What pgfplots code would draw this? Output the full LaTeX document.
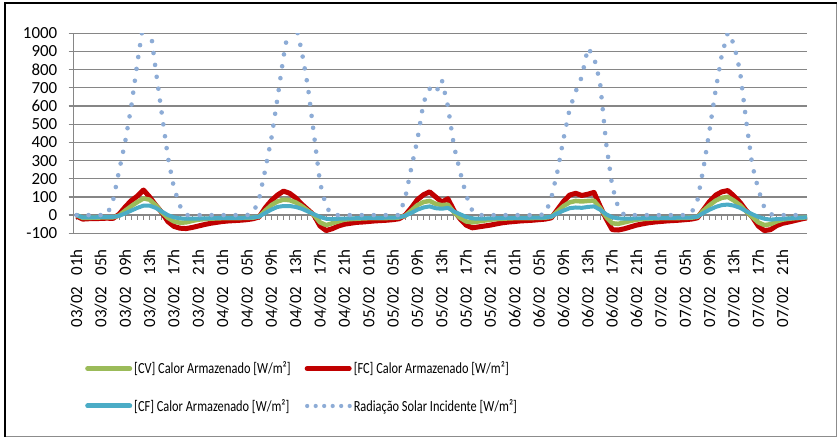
\documentclass[border=0pt]{standalone}
\usepackage{fontspec}
\setmainfont{Carlito}
\usepackage{graphicx}
\usepackage{pgfplots}
\pgfplotsset{compat=1.18}
\usepackage{pgfplotstable}
\definecolor{cvgreen}{RGB}{155,187,89}
\definecolor{fcred}{RGB}{192,0,0}
\definecolor{cfteal}{RGB}{75,172,198}
\definecolor{radblue}{RGB}{141,172,214}
\definecolor{gridgray}{RGB}{134,134,134}
\newcommand{\lab}[2]{#1\hspace{11bp}#2}
\newcommand{\leg}[1]{\scalebox{0.8}[1]{#1}}

\pgfplotstableread{
i fc cv cf rad
0 -5 0 0 0
1 -22 -15 -12 0
2 -20 -15 -12 0
3 -20 -14 -12 0
4 -18 -13 -11 0
5 -17 -13 -11 0
6 -18 -12 -10 80
7 5 -2 -4 245
8 45 25 10 405
9 80 50 25 600
10 105 72 40 840
11 138 92 52 1060
12 100 85 52 1060
13 55 55 40 800
14 15 15 20 560
15 -35 -15 0 320
16 -62 -35 -12 150
17 -72 -42 -18 50
18 -74 -40 -20 0
19 -68 -32 -20 0
20 -60 -25 -19 0
21 -52 -22 -18 0
22 -45 -20 -17 0
23 -40 -18 -16 0
24 -35 -17 -15 0
25 -32 -17 -15 0
26 -30 -16 -15 0
27 -28 -16 -15 0
28 -25 -15 -14 0
29 -20 -14 -13 10
30 -10 -8 -8 90
31 40 25 12 250
32 80 55 30 420
33 110 75 45 640
34 132 85 50 870
35 120 82 50 1060
36 95 70 45 1050
37 60 50 35 900
38 30 25 20 707
39 0 0 5 444
40 -60 -40 -10 178
41 -85 -55 -20 47
42 -75 -45 -22 0
43 -60 -35 -20 0
44 -50 -25 -19 0
45 -45 -22 -18 0
46 -40 -20 -17 0
47 -38 -18 -16 0
48 -35 -17 -15 0
49 -32 -17 -15 0
50 -30 -16 -15 0
51 -28 -16 -14 0
52 -25 -15 -14 0
53 -20 -13 -12 0
54 0 -3 -3 95
55 40 25 12 260
56 85 55 30 415
57 112 72 42 620
58 128 78 48 695
59 100 62 38 670
60 72 55 35 745
61 90 58 40 600
62 25 15 20 380
63 -20 -15 5 240
64 -55 -35 -10 110
65 -70 -40 -18 25
66 -65 -35 -20 0
67 -60 -30 -19 0
68 -55 -25 -18 0
69 -48 -22 -17 0
70 -42 -20 -16 0
71 -38 -18 -15 0
72 -35 -17 -15 0
73 -32 -17 -15 0
74 -30 -16 -15 0
75 -28 -16 -14 0
76 -25 -15 -14 0
77 -22 -14 -13 5
78 -15 -10 -8 95
79 30 20 10 240
80 75 50 25 420
81 110 70 38 583
82 120 78 42 680
83 108 75 40 760
84 115 78 45 920
85 125 80 48 870
86 50 40 30 730
87 -20 -10 5 395
88 -80 -45 -12 160
89 -82 -48 -18 40
90 -75 -40 -20 0
91 -65 -32 -19 0
92 -55 -25 -18 0
93 -48 -22 -17 0
94 -42 -20 -16 0
95 -38 -18 -15 0
96 -35 -17 -15 0
97 -32 -17 -15 0
98 -30 -16 -15 0
99 -28 -16 -14 0
100 -25 -15 -14 0
101 -22 -14 -13 10
102 -15 -10 -8 82
103 30 25 12 260
104 75 55 30 470
105 110 80 45 690
106 128 95 55 880
107 135 100 58 1005
108 105 80 52 940
109 70 55 40 790
110 25 20 22 520
111 -10 -10 5 275
112 -60 -40 -10 142
113 -85 -55 -20 40
114 -80 -50 -25 5
115 -58 -35 -22 0
116 -45 -25 -20 0
117 -38 -20 -18 0
118 -30 -17 -16 0
119 -22 -15 -14 0
120 -15 -12 -12 0
}\data

\begin{document}
\begin{tikzpicture}[x=1bp,y=1bp]
\useasboundingbox (0,0) rectangle (839,439);
\fill[white] (0,0) rectangle (839,439);
\draw[line width=1bp, black!45] (5,2) -- (836.5,2) -- (836.5,436);
\draw[line width=2.5bp, black] (5,2) -- (5,436) -- (836.5,436);
\begin{axis}[
  at={(73.5bp,205.7bp)}, anchor=south west,
  scale only axis, width=733.5bp, height=200bp,
  xmin=-0.5, xmax=120, ymin=-100, ymax=1000,
  axis x line*=bottom, axis y line*=left,
  x axis line style={draw=none},
  y axis line style={gridgray, line width=1.3bp},
  ytick={-100,0,100,200,300,400,500,600,700,800,900,1000},
  yticklabels={-100,0,100,200,300,400,500,600,700,800,900,1000},
  ymajorgrids, major grid style={gridgray, line width=1.3bp},
  ytick style={gridgray, line width=1.3bp},
  tick align=outside, major tick length=5bp,
  xtick style={draw=none},
  xtick={0,4,...,116},
  xticklabels={\lab{03/02}{01h},\lab{03/02}{05h},\lab{03/02}{09h},\lab{03/02}{13h},\lab{03/02}{17h},\lab{03/02}{21h},
    \lab{04/02}{01h},\lab{04/02}{05h},\lab{04/02}{09h},\lab{04/02}{13h},\lab{04/02}{17h},\lab{04/02}{21h},
    \lab{05/02}{01h},\lab{05/02}{05h},\lab{05/02}{09h},\lab{05/02}{13h},\lab{05/02}{17h},\lab{05/02}{21h},
    \lab{06/02}{01h},\lab{06/02}{05h},\lab{06/02}{09h},\lab{06/02}{13h},\lab{06/02}{17h},\lab{06/02}{21h},
    \lab{07/02}{01h},\lab{07/02}{05h},\lab{07/02}{09h},\lab{07/02}{13h},\lab{07/02}{17h},\lab{07/02}{21h}},
  tick label style={font=\fontsize{17}{17}\selectfont, black},
  xticklabel style={rotate=90, anchor=east, inner sep=0pt},
  xticklabel shift=11bp,
  yticklabel style={inner sep=0pt},
  yticklabel shift=11bp,
  legend columns=2,
  legend cell align=left,
  legend style={at={(axis description cs:0.0157,-0.632)}, anchor=north west,
    draw=none, fill=none, inner sep=0pt,
    font=\fontsize{15.5}{17}\selectfont, row sep=20bp,
    /tikz/every even column/.append style={column sep=12bp}},
]
\pgfplotsinvokeforeach{0,...,120}{\draw[gridgray, line width=1bp] (axis cs:#1,0) -- ++(0bp,-5bp);}
\addplot[forget plot, fcred, line width=5bp, line join=round] table[x=i,y=fc]{\data};
\addplot[forget plot, cvgreen, line width=4.5bp, line join=round] table[x=i,y=cv]{\data};
\addplot[forget plot, cfteal, line width=4bp, line join=round] table[x=i,y=cf]{\data};
\addplot[forget plot, radblue, line width=4.6bp, line cap=round, dash pattern=on 0bp off 12bp] table[x=i,y=rad]{\data};
\addlegendimage{legend image code/.code={\draw[cvgreen, line width=5bp, line cap=round] (2.5bp,0bp) -- (44.5bp,0bp);}}
\addlegendentry{\leg{[CV] Calor Armazenado [W/m²]}}
\addlegendimage{legend image code/.code={\draw[fcred, line width=5bp, line cap=round] (2.5bp,0bp) -- (44.5bp,0bp);}}
\addlegendentry{\leg{[FC] Calor Armazenado [W/m²]}}
\addlegendimage{legend image code/.code={\draw[cfteal, line width=5bp, line cap=round] (2.5bp,0bp) -- (44.5bp,0bp);}}
\addlegendentry{\leg{[CF] Calor Armazenado [W/m²]}}
\addlegendimage{legend image code/.code={\draw[radblue, line width=4.2bp, line cap=round, dash pattern=on 0bp off 8.5bp] (2.5bp,0bp) -- (45bp,0bp);}}
\addlegendentry{\leg{Radiação Solar Incidente [W/m²]}}
\end{axis}
\end{tikzpicture}
\end{document}
